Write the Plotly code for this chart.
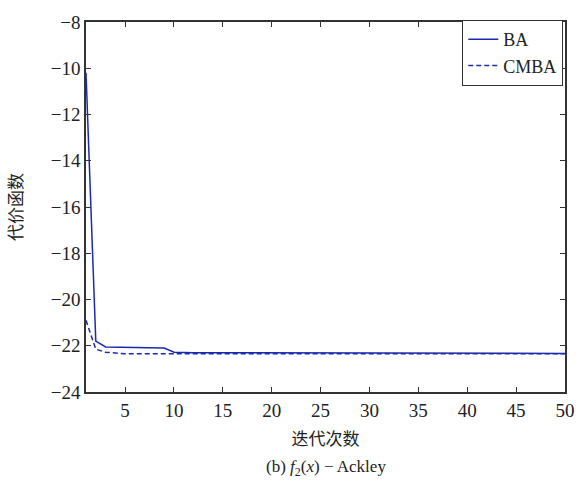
import plotly.graph_objects as go

iters = list(range(1, 51))
ba = [-10.2, -21.8, -22.05, -22.06, -22.07, -22.08, -22.09, -22.1, -22.1, -22.28] + [-22.3]*6 + [-22.33]*34
cmba = [-20.9, -22.15, -22.28, -22.32] + [-22.35]*46

serif = "Liberation Serif"
cjk = "Noto Sans CJK SC"
blue = "#1a2ab0"

fig = go.Figure()
fig.add_trace(go.Scatter(x=iters, y=ba, mode="lines", name="BA",
                         line=dict(color=blue, width=1.5)))
fig.add_trace(go.Scatter(x=iters, y=cmba, mode="lines", name="CMBA",
                         line=dict(color=blue, width=1.5, dash="5px,3px")))

axis_common = dict(showline=True, linecolor="#333", linewidth=1.5, mirror="ticks",
                   ticks="inside", ticklen=5, tickcolor="#333", showgrid=False,
                   zeroline=False, tickfont=dict(family=serif, size=19, color="#222"))
fig.update_xaxes(range=[1, 50], tickvals=[5, 10, 15, 20, 25, 30, 35, 40, 45, 50],
                 title=dict(text="迭代次数", font=dict(family=cjk, size=17, color="#222"), standoff=14),
                 **axis_common)
fig.update_yaxes(range=[-24, -8], tickvals=[-24, -22, -20, -18, -16, -14, -12, -10, -8],
                 ticktext=["−24", "−22", "−20", "−18", "−16", "−14", "−12", "−10", "−8"],
                 title=dict(text="代价函数", font=dict(family=cjk, size=17, color="#222"), standoff=24),
                 **axis_common)

fig.add_annotation(text="(b) <i>f</i><sub>2</sub>(<i>x</i>) − Ackley", xref="paper", yref="paper",
                   x=0.5, y=-0.205, xanchor="center", yanchor="middle", showarrow=False,
                   font=dict(family=serif, size=17, color="#222"))

fig.update_layout(
    width=587, height=484,
    margin=dict(l=86, r=19, t=14, b=92),
    plot_bgcolor="white", paper_bgcolor="white",
    legend=dict(x=0.996, y=1.006, xanchor="right", yanchor="top",
                bgcolor="white", bordercolor="#333", borderwidth=1.2,
                font=dict(family=serif, size=18, color="#222"),
                tracegroupgap=0, itemwidth=30),
)

fig.write_html("out.html")
